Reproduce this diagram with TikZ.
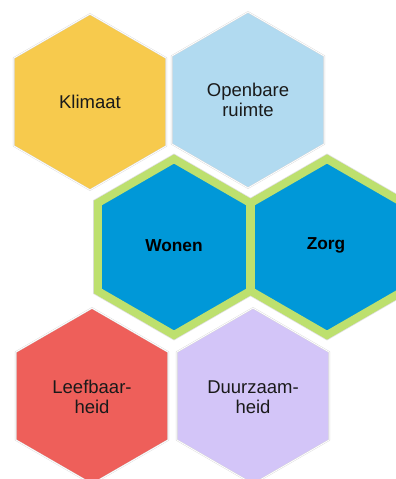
\documentclass[tikz,border=0pt]{standalone}
\usepackage{fontspec}
\setmainfont{Liberation Sans}
\definecolor{cYellow}{HTML}{F7CA4D}
\definecolor{cLightBlue}{HTML}{B1DAF0}
\definecolor{cBlue}{HTML}{0098D8}
\definecolor{cGreen}{HTML}{BDE06E}
\definecolor{cRed}{HTML}{EE5F5A}
\definecolor{cLavender}{HTML}{D3C5F8}
\definecolor{cText}{HTML}{1A1A1A}
\newcommand{\hexat}[3]{(#1,#2) +(90:#3) -- +(150:#3) -- +(210:#3) -- +(270:#3) -- +(330:#3) -- +(30:#3) -- cycle}
\tikzset{
  hexplain/.style={draw=gray!30, double=white, double distance=0.8pt, line join=miter},
  hexmain/.style={draw=cGreen, line width=8pt, line join=miter},
  hexlabel/.style={align=center, text=cText, font=\fontsize{18.5}{20}\selectfont},
  hexbold/.style={align=center, text=black, font=\fontsize{17.3}{20}\selectfont\bfseries}
}
\begin{document}
\begin{tikzpicture}[x=1pt,y=1pt]
\useasboundingbox (0,0) rectangle (396,-479);
\begin{scope}
\clip (0,0) rectangle (396,-479);
% top row
\path[hexplain, fill=cYellow] \hexat{90}{-102}{88};
\path[hexplain, fill=cLightBlue] \hexat{248}{-100}{88};
% bottom row
\path[hexplain, fill=cRed] \hexat{92}{-396}{88};
\path[hexplain, fill=cLavender] \hexat{253}{-396}{88};
% middle row
\path[draw=gray!25, line width=9.5pt, line join=miter] \hexat{174}{-247}{88};
\path[draw=gray!25, line width=9.5pt, line join=miter] \hexat{327}{-247}{88};
\path[hexmain, fill=cBlue] \hexat{174}{-247}{88};
\path[hexmain, fill=cBlue] \hexat{327}{-247}{88};
\end{scope}
% labels
\node[hexlabel] (klimaat) at (90,-102) {Klimaat};
\node[hexlabel] (openbare) at (248,-100) {Openbare\\ruimte};
\node[hexbold] (wonen) at (174,-246) {Wonen};
\node[hexbold] (zorg) at (326,-245) {Zorg};
\node[hexlabel] (leefbaar) at (92,-397) {Leefbaar-\\heid};
\node[hexlabel] (duurzaam) at (253,-397) {Duurzaam-\\heid};
\end{tikzpicture}
\end{document}
